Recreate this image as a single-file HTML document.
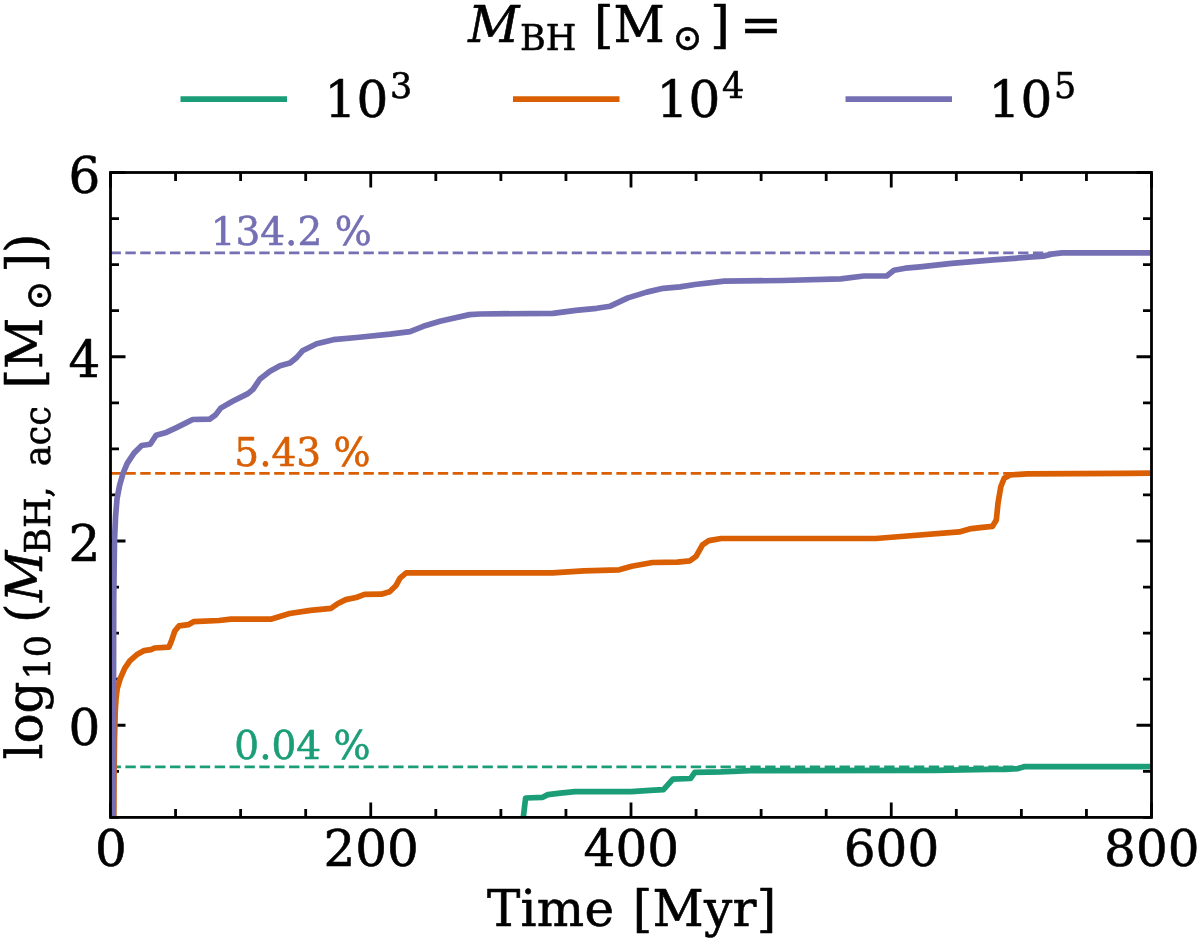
<!DOCTYPE html>
<html lang="en">
<head>
<meta charset="utf-8">
<title>Accreted black hole mass versus time</title>
<style>
html,body{margin:0;padding:0;background:#fff;}
body{width:1200px;height:941px;overflow:hidden;}
svg{display:block;will-change:transform;opacity:.999;}
text{font-family:"DejaVu Serif","Liberation Serif",serif;font-size:50px;fill:#000;stroke:#000;stroke-width:.6px;stroke-linejoin:round;}
.it{font-style:italic;}
.ann{font-size:39px;}
</style>
</head>
<body>
<svg width="1200" height="941" viewBox="0 0 1200 941">
<rect width="1200" height="941" fill="#fff"/>
<!-- title -->
<text y="41.7"><tspan class="it" x="468.3">M</tspan><tspan x="520" y="50" font-size="35">BH </tspan><tspan x="594.1" y="41.7">[M</tspan><tspan x="672.5" y="50" font-size="36">⊙</tspan><tspan x="710.2" y="41.7">] </tspan><tspan x="740.1" y="41.7">=</tspan></text>
<!-- legend -->
<g fill="none" stroke-width="5.7">
<path d="M180.5 99.2H287" stroke="#1b9e77"/>
<path d="M513 99.2H619.5" stroke="#d95f02"/>
<path d="M845.5 99.2H952" stroke="#7570b3"/>
</g>
<text x="324.6" y="117.1">10<tspan dx="1.7" dy="-18.8" font-size="35">3</tspan></text>
<text x="656.6" y="117.1">10<tspan dx="1.7" dy="-18.8" font-size="35">4</tspan></text>
<text x="988.6" y="117.1">10<tspan dx="1.7" dy="-18.8" font-size="35">5</tspan></text>
<!-- ticks -->
<g fill="none" stroke="#000" stroke-width="2.8"><path d="M110.50 817.4 v-15 M110.50 172.5 v15"/><path d="M175.56 817.4 v-8.5 M175.56 172.5 v8.5"/><path d="M240.62 817.4 v-8.5 M240.62 172.5 v8.5"/><path d="M305.69 817.4 v-8.5 M305.69 172.5 v8.5"/><path d="M370.75 817.4 v-15 M370.75 172.5 v15"/><path d="M435.81 817.4 v-8.5 M435.81 172.5 v8.5"/><path d="M500.88 817.4 v-8.5 M500.88 172.5 v8.5"/><path d="M565.94 817.4 v-8.5 M565.94 172.5 v8.5"/><path d="M631.00 817.4 v-15 M631.00 172.5 v15"/><path d="M696.06 817.4 v-8.5 M696.06 172.5 v8.5"/><path d="M761.12 817.4 v-8.5 M761.12 172.5 v8.5"/><path d="M826.19 817.4 v-8.5 M826.19 172.5 v8.5"/><path d="M891.25 817.4 v-15 M891.25 172.5 v15"/><path d="M956.31 817.4 v-8.5 M956.31 172.5 v8.5"/><path d="M1021.38 817.4 v-8.5 M1021.38 172.5 v8.5"/><path d="M1086.44 817.4 v-8.5 M1086.44 172.5 v8.5"/><path d="M1151.50 817.4 v-15 M1151.50 172.5 v15"/><path d="M110.5 817.40 h8.5 M1151.5 817.40 h-8.5"/><path d="M110.5 771.34 h8.5 M1151.5 771.34 h-8.5"/><path d="M110.5 725.27 h15 M1151.5 725.27 h-15"/><path d="M110.5 679.21 h8.5 M1151.5 679.21 h-8.5"/><path d="M110.5 633.14 h8.5 M1151.5 633.14 h-8.5"/><path d="M110.5 587.08 h8.5 M1151.5 587.08 h-8.5"/><path d="M110.5 541.01 h15 M1151.5 541.01 h-15"/><path d="M110.5 494.95 h8.5 M1151.5 494.95 h-8.5"/><path d="M110.5 448.89 h8.5 M1151.5 448.89 h-8.5"/><path d="M110.5 402.82 h8.5 M1151.5 402.82 h-8.5"/><path d="M110.5 356.76 h15 M1151.5 356.76 h-15"/><path d="M110.5 310.69 h8.5 M1151.5 310.69 h-8.5"/><path d="M110.5 264.63 h8.5 M1151.5 264.63 h-8.5"/><path d="M110.5 218.56 h8.5 M1151.5 218.56 h-8.5"/><path d="M110.5 172.50 h15 M1151.5 172.50 h-15"/></g>
<!-- data -->
<g fill="none" stroke-linejoin="round" stroke-linecap="butt">
<g stroke-width="2.8" stroke-dasharray="10.4 4.478">
<path d="M110.5 766.8H1151.5" stroke="#1b9e77"/>
<path d="M110.5 473.4H1151.5" stroke="#d95f02"/>
<path d="M110.5 252.9H1151.5" stroke="#7570b3"/>
</g>
<g stroke-width="5.7">
<path d="M523.3 817.4 L525.6 798.0 L542.7 797.3 L547.9 794.6 L560.4 793.1 L575.0 791.7 L631.2 791.7 L650.0 790.4 L663.5 789.6 L672.9 779.2 L690.6 778.5 L694.8 772.3 L720.8 771.9 L750.0 770.6 L935.0 770.4 L990.0 769.3 L1005.0 769.3 L1018.0 768.6 L1024.0 766.7 L1150.5 766.7" stroke="#1b9e77"/>
<path d="M113.8 817.4 L114.0 780.0 L114.5 740.0 L115.2 712.0 L116.0 699.0 L117.2 688.8 L120.2 678.6 L124.7 668.4 L129.8 660.8 L136.6 654.8 L144.2 650.6 L151.0 649.7 L154.4 648.0 L168.9 647.2 L171.4 641.2 L174.8 631.0 L179.1 625.9 L188.4 624.7 L193.5 621.7 L219.0 620.5 L230.9 619.2 L270.8 619.2 L289.6 613.5 L310.4 610.4 L331.2 608.3 L337.5 603.8 L345.8 599.6 L356.2 597.5 L364.6 594.4 L381.2 594.2 L389.6 591.7 L395.8 585.8 L400.0 578.1 L406.2 572.9 L552.5 572.9 L583.8 570.8 L619.2 569.8 L631.7 566.2 L652.5 562.5 L677.5 562.1 L690.0 560.8 L696.2 556.2 L702.5 544.8 L708.8 540.6 L721.2 538.5 L875.8 538.5 L900.8 536.5 L959.2 531.9 L969.6 528.9 L980.0 527.6 L992.5 526.3 L996.3 520.0 L998.0 503.3 L1000.8 486.7 L1004.2 478.3 L1010.0 475.0 L1026.7 473.8 L1126.7 473.4 L1150.5 473.2" stroke="#d95f02"/>
<path d="M113.3 817.4 L113.5 700.0 L113.7 600.0 L114.5 540.0 L115.6 516.0 L117.0 499.0 L119.6 485.4 L123.0 473.5 L127.2 463.3 L134.0 453.1 L141.7 445.5 L150.2 444.3 L156.1 435.3 L166.3 432.4 L176.5 427.6 L185.0 423.4 L192.7 419.5 L209.7 419.1 L215.6 414.9 L220.7 408.1 L232.6 401.3 L247.9 393.6 L253.0 389.4 L260.0 379.0 L270.0 371.3 L280.0 365.8 L290.0 363.0 L296.7 357.5 L302.5 350.8 L316.7 343.7 L333.3 339.7 L356.7 337.5 L390.0 334.2 L410.0 331.7 L423.3 326.3 L440.0 321.3 L448.8 319.2 L469.6 314.6 L480.0 314.0 L552.9 313.3 L575.8 310.4 L596.7 308.3 L610.2 306.2 L627.9 297.9 L646.7 292.1 L663.3 288.3 L680.0 286.9 L695.0 284.5 L724.2 281.2 L782.5 280.5 L840.8 278.9 L863.8 276.0 L886.7 276.0 L894.0 270.3 L905.4 268.2 L920.0 266.8 L951.7 263.4 L993.3 259.9 L1028.8 257.2 L1043.3 256.1 L1053.5 253.8 L1062.0 252.9 L1150.5 252.9" stroke="#7570b3"/>
</g>
</g>
<!-- frame -->
<rect x="110.5" y="172.5" width="1041.0" height="644.9" fill="none" stroke="#000" stroke-width="2.8"/>
<!-- annotations -->
<text class="ann" x="291.2" y="245.2" text-anchor="middle" style="fill:#7570b3;stroke:#7570b3">134.2 %</text>
<text class="ann" x="302.5" y="466.3" text-anchor="middle" style="fill:#d95f02;stroke:#d95f02">5.43 %</text>
<text class="ann" x="302.5" y="759.3" text-anchor="middle" style="fill:#1b9e77;stroke:#1b9e77">0.04 %</text>
<!-- tick labels -->
<text x="110.8" y="866.4" text-anchor="middle">0</text><text x="371.1" y="866.4" text-anchor="middle">200</text><text x="631.3" y="866.4" text-anchor="middle">400</text><text x="891.5" y="866.4" text-anchor="middle">600</text><text x="1151.8" y="866.4" text-anchor="middle">800</text>
<text x="100.4" y="745.3" text-anchor="end">0</text><text x="100.4" y="561.0" text-anchor="end">2</text><text x="100.4" y="376.8" text-anchor="end">4</text><text x="100.4" y="192.5" text-anchor="end">6</text>
<!-- axis labels -->
<text y="925.6" style="letter-spacing:.25px"><tspan x="487">Time </tspan><tspan x="632.8">[Myr]</tspan></text>
<text transform="translate(42.4 757) rotate(-90)" y="0"><tspan x="-2.5">log</tspan><tspan x="77.6" y="7.7" font-size="35">10 </tspan><tspan x="134" y="0">(</tspan><tspan class="it" x="154.9" y="0">M</tspan><tspan x="203.3" y="7.7" font-size="35">BH, </tspan><tspan x="290.7" y="7.7" font-size="35">acc </tspan><tspan x="368.5" y="0">[M</tspan><tspan x="446.4" y="8.2" font-size="36">⊙</tspan><tspan x="484.4" y="0">])</tspan></text>
</svg>
</body>
</html>
